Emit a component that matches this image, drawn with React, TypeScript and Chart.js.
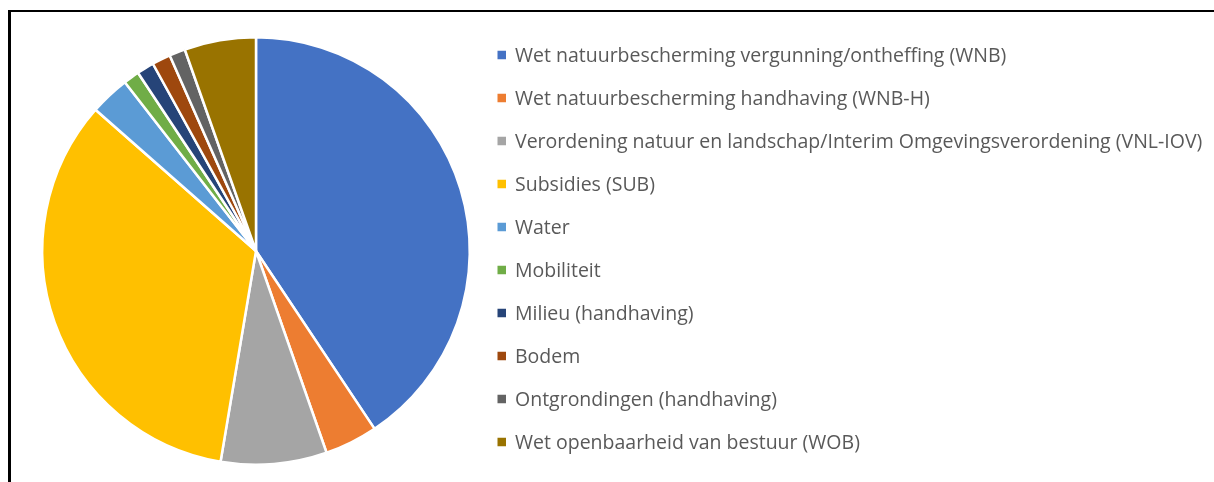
import React, { useEffect, useRef } from "react";
import { Chart, registerables } from "chart.js";

Chart.register(...registerables);

const categories = [
  "Wet natuurbescherming vergunning/ontheffing (WNB)",
  "Wet natuurbescherming handhaving (WNB-H)",
  "Verordening natuur en landschap/Interim Omgevingsverordening (VNL-IOV)",
  "Subsidies (SUB)",
  "Water",
  "Mobiliteit",
  "Milieu (handhaving)",
  "Bodem",
  "Ontgrondingen (handhaving)",
  "Wet openbaarheid van bestuur (WOB)",
];

const values = [40.6, 4.0, 8.0, 33.8, 3.0, 1.2, 1.3, 1.4, 1.2, 5.4];

const colors = [
  "#4472C4",
  "#ED7D31",
  "#A5A5A5",
  "#FFC000",
  "#5B9BD5",
  "#70AD47",
  "#264478",
  "#9E480E",
  "#636363",
  "#997300",
];

const LEGEND_FONT = "19.5px 'Open Sans'";
const LEGEND_COLOR = "#595959";

const legendPlugin = {
  id: "customLegend",
  afterDraw(chart: any) {
    const ctx = chart.ctx as CanvasRenderingContext2D;
    const labels = chart.data.labels as string[];
    const bg = chart.data.datasets[0].backgroundColor as string[];
    const boxX = 497.5;
    const boxSize = 8.5;
    const textX = 515;
    const firstY = 55;
    const step = 43;
    ctx.save();
    ctx.font = LEGEND_FONT;
    ctx.textBaseline = "alphabetic";
    ctx.textAlign = "left";
    const m = ctx.measureText("W");
    const capH = m.actualBoundingBoxAscent;
    labels.forEach((lab, i) => {
      const cy = firstY + step * i;
      ctx.fillStyle = bg[i];
      ctx.fillRect(boxX, cy - boxSize / 2, boxSize, boxSize);
      ctx.fillStyle = LEGEND_COLOR;
      ctx.fillText(lab, textX, cy + capH / 2);
    });
    ctx.restore();
  },
};

export default function App() {
  const ref = useRef<HTMLCanvasElement | null>(null);
  useEffect(() => {
    if (!ref.current) return;
    const chart = new Chart(ref.current, {
      type: "pie",
      data: {
        labels: categories,
        datasets: [
          {
            data: values,
            backgroundColor: colors,
            borderColor: "#ffffff",
            borderWidth: 2.5,
          },
        ],
      },
      options: {
        animation: false,
        responsive: false,
        layout: { padding: { left: 41, top: 36, right: 743, bottom: 16 } },
        plugins: {
          legend: { display: false },
          tooltip: { enabled: false },
          title: { display: false },
        },
      },
      plugins: [legendPlugin],
    });
    return () => chart.destroy();
  }, []);
  return (
    <div style={{ position: "fixed", left: 0, top: 0, width: 1214, height: 482, background: "#fff", overflow: "hidden" }}>
      <canvas ref={ref} width={1214} height={482} style={{ position: "absolute", left: 0, top: 0, width: 1214, height: 482 }} />
      <div
        style={{
          position: "absolute",
          left: 8,
          top: 10,
          width: 1214,
          height: 482,
          borderLeft: "3px solid #000",
          borderTop: "2px solid #000",
          pointerEvents: "none",
        }}
      />
    </div>
  );
}
